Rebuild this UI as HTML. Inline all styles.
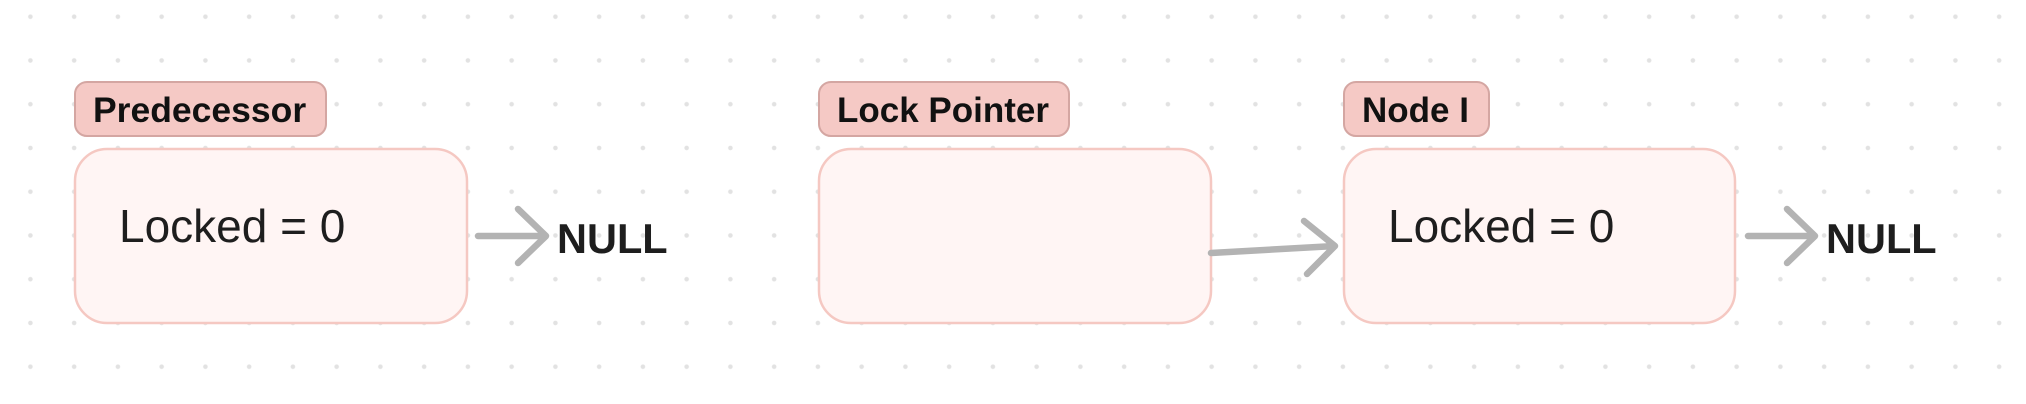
<!DOCTYPE html>
<html><head><meta charset="utf-8"><style>
html,body{margin:0;padding:0;background:#fff;}
svg{display:block;}
text{font-family:"Liberation Sans",sans-serif;}
</style></head><body>
<svg width="2026" height="404" viewBox="0 0 2026 404" xmlns="http://www.w3.org/2000/svg">
<defs>
<pattern id="dots" x="8.5" y="-5.2" width="43.75" height="43.75" patternUnits="userSpaceOnUse">
<circle cx="21.9" cy="21.9" r="2.3" fill="#e2e2e2"/>
</pattern>
</defs>
<rect width="2026" height="404" fill="url(#dots)"/>

<!-- Predecessor -->
<rect x="75" y="82" width="251" height="54" rx="12" fill="#f5c9c5" stroke="#d4a6a2" stroke-width="2"/>
<text x="93" y="122" font-size="35.5" font-weight="bold" fill="#111">Predecessor</text>
<rect x="75" y="149" width="392" height="174" rx="32" fill="#fff5f4" stroke="#f5c8c2" stroke-width="2.5"/>
<text x="119" y="242" font-size="46" fill="#1e1e1e">Locked = 0</text>
<g stroke="#b3b3b3" stroke-width="6.5" stroke-linecap="round" stroke-linejoin="round" fill="none">
<path d="M478 236 L546 236 M518 209 L546 236 L518 263"/>
</g>
<text x="557" y="253" font-size="41.5" font-weight="bold" fill="#1e1e1e">NULL</text>

<!-- Lock Pointer -->
<rect x="819" y="82" width="250" height="54" rx="12" fill="#f5c9c5" stroke="#d4a6a2" stroke-width="2"/>
<text x="837" y="122" font-size="35" font-weight="bold" fill="#111">Lock Pointer</text>
<rect x="819" y="149" width="392" height="174" rx="32" fill="#fff5f4" stroke="#f5c8c2" stroke-width="2.5"/>
<g stroke="#b3b3b3" stroke-width="6.5" stroke-linecap="round" stroke-linejoin="round" fill="none">
<path d="M1211 253 L1335 246 M1304 221 L1335 246 L1307 274"/>
</g>

<!-- Node I -->
<rect x="1344" y="82" width="145" height="54" rx="12" fill="#f5c9c5" stroke="#d4a6a2" stroke-width="2"/>
<text x="1362" y="122" font-size="35" font-weight="bold" fill="#111">Node I</text>
<rect x="1344" y="149" width="391" height="174" rx="32" fill="#fff5f4" stroke="#f5c8c2" stroke-width="2.5"/>
<text x="1388" y="242" font-size="46" fill="#1e1e1e">Locked = 0</text>
<g stroke="#b3b3b3" stroke-width="6.5" stroke-linecap="round" stroke-linejoin="round" fill="none">
<path d="M1748 236 L1815 236 M1787 209 L1815 236 L1787 263"/>
</g>
<text x="1826" y="253" font-size="41.5" font-weight="bold" fill="#1e1e1e">NULL</text>
</svg>
</body></html>
